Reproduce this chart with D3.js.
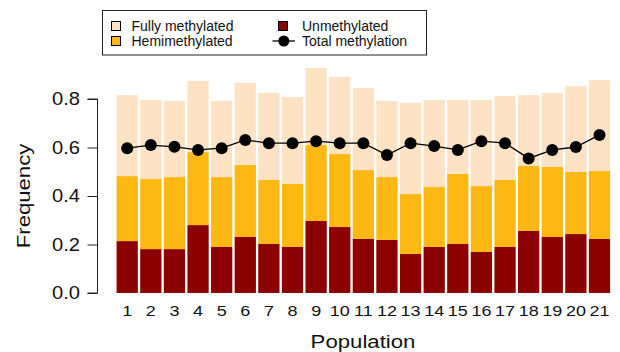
<!DOCTYPE html>
<html>
<head>
<meta charset="utf-8">
<script src="https://cdn.jsdelivr.net/npm/d3@7"></script>
<style>
  html, body { margin: 0; padding: 0; background: #fff; }
  svg { display: block; font-family: "Liberation Sans", Arial, Helvetica, sans-serif; }
</style>
</head>
<body>
<svg id="chart" width="620" height="352"></svg>
<script>
// Populations 1..21 and methylation class frequencies per population
const populations = d3.range(1, 22).map(String);
const unmethylated   = [0.214, 0.181, 0.181, 0.280, 0.190, 0.231, 0.202, 0.190, 0.297, 0.272, 0.223, 0.219, 0.161, 0.190, 0.202, 0.169, 0.190, 0.256, 0.231, 0.243, 0.223];
const hemimethylated = [0.268, 0.289, 0.297, 0.301, 0.288, 0.297, 0.264, 0.260, 0.313, 0.301, 0.284, 0.259, 0.247, 0.247, 0.289, 0.272, 0.276, 0.268, 0.289, 0.256, 0.280];
const fullyMethylated = [0.334, 0.326, 0.314, 0.293, 0.314, 0.338, 0.359, 0.358, 0.318, 0.318, 0.339, 0.314, 0.376, 0.359, 0.305, 0.355, 0.346, 0.292, 0.305, 0.354, 0.375];
const totalMethylation = [0.597, 0.610, 0.603, 0.590, 0.597, 0.631, 0.618, 0.618, 0.626, 0.618, 0.618, 0.569, 0.618, 0.606, 0.590, 0.626, 0.618, 0.555, 0.590, 0.602, 0.652];
const yTicks = [0, 0.2, 0.4, 0.6, 0.8];

const seriesKeys = ["unmethylated", "hemimethylated", "fully"];
const colors = { unmethylated: "#8B0000", hemimethylated: "#FEB813", fully: "#FDE3C4" };

const rows = populations.map((p, i) => ({
  pop: p,
  unmethylated: unmethylated[i],
  hemimethylated: hemimethylated[i],
  fully: fullyMethylated[i],
  total: totalMethylation[i]
}));

const svg = d3.select("#chart");
const TEXT_FILL = "#111";
const STRETCH = 1.2; // axis lettering is set slightly wide

const x = d3.scaleBand().domain(populations).range([115.4, 611.3]).paddingInner(0.1).paddingOuter(0.05);
const y = d3.scaleLinear().domain([0, 0.8]).range([293, 99]);

// stacked bars
const stack = d3.stack().keys(seriesKeys)(rows);
svg.append("g").selectAll("g").data(stack).join("g")
  .attr("fill", d => colors[d.key])
  .selectAll("rect").data(d => d).join("rect")
  .attr("x", d => x(d.data.pop))
  .attr("width", x.bandwidth())
  .attr("y", d => y(d[1]))
  .attr("height", d => y(d[0]) - y(d[1]));

// total methylation line with points
const cx = d => x(d.pop) + x.bandwidth() / 2;
svg.append("path").datum(rows)
  .attr("fill", "none").attr("stroke", "#000").attr("stroke-width", 1.3)
  .attr("d", d3.line().x(cx).y(d => y(d.total)));
svg.append("g").selectAll("circle").data(rows).join("circle")
  .attr("cx", cx).attr("cy", d => y(d.total)).attr("r", 6).attr("fill", "#000");

// y axis
const yAxis = svg.append("g").attr("transform", "translate(97.5,0)")
  .call(d3.axisLeft(y).tickValues(yTicks).tickFormat(d3.format(".1f")).tickSize(10).tickPadding(7.5));
yAxis.select(".domain").attr("stroke", "#222").attr("d", `M-10,${y(0)}H0V${y(0.8)}H-10`);
yAxis.selectAll(".tick line").attr("stroke", "#222");
yAxis.selectAll("text")
  .attr("font-size", 17.5).attr("fill", TEXT_FILL)
  .attr("font-family", "Liberation Sans, Arial, sans-serif")
  .attr("x", -17.5 / 1.15).attr("transform", "scale(1.15,1)");

// x axis labels
const xAxis = svg.append("g").attr("transform", `translate(0,${y(0)})`)
  .call(d3.axisBottom(x).tickSize(0).tickPadding(12.5));
xAxis.select(".domain").remove();
xAxis.selectAll("text")
  .attr("font-size", 15).attr("fill", TEXT_FILL)
  .attr("font-family", "Liberation Sans, Arial, sans-serif")
  .attr("transform", `scale(${STRETCH},1)`);

// axis titles
svg.append("text").attr("transform", `translate(363,348) scale(${STRETCH},1)`)
  .attr("text-anchor", "middle").attr("font-size", 18.5).attr("fill", TEXT_FILL).text("Population");
svg.append("text").attr("transform", "translate(29.5,196) rotate(-90) scale(1.23,1)")
  .attr("text-anchor", "middle").attr("font-size", 18).attr("fill", TEXT_FILL).text("Frequency");

// legend
const lg = svg.append("g");
lg.append("rect").attr("x", 102.5).attr("y", 10.5).attr("width", 324).attr("height", 44.5)
  .attr("fill", "#fff").attr("stroke", "#222").attr("stroke-width", 1);
const legendItems = [
  { label: "Fully methylated", key: "fully", col: 0, row: 0 },
  { label: "Hemimethylated", key: "hemimethylated", col: 0, row: 1 },
  { label: "Unmethylated", key: "unmethylated", col: 1, row: 0 },
  { label: "Total methylation", key: "total", col: 1, row: 1 }
];
const colX = [111.5, 278.5], textX = [131.5, 302], rowY = [26, 41];
legendItems.forEach(it => {
  const bx = colX[it.col], by = rowY[it.row];
  if (it.key === "total") {
    lg.append("line").attr("x1", 272.5).attr("x2", 295).attr("y1", by).attr("y2", by)
      .attr("stroke", "#000").attr("stroke-width", 1.3);
    lg.append("circle").attr("cx", 283.8).attr("cy", by).attr("r", 5.5).attr("fill", "#000");
  } else {
    lg.append("rect").attr("x", bx).attr("y", by - 4.5).attr("width", 9).attr("height", 9)
      .attr("fill", colors[it.key]).attr("stroke", "#000").attr("stroke-width", 1);
  }
  lg.append("text").attr("x", textX[it.col]).attr("y", by + 5).attr("font-size", 14)
    .attr("fill", TEXT_FILL).text(it.label);
});
</script>
</body>
</html>
